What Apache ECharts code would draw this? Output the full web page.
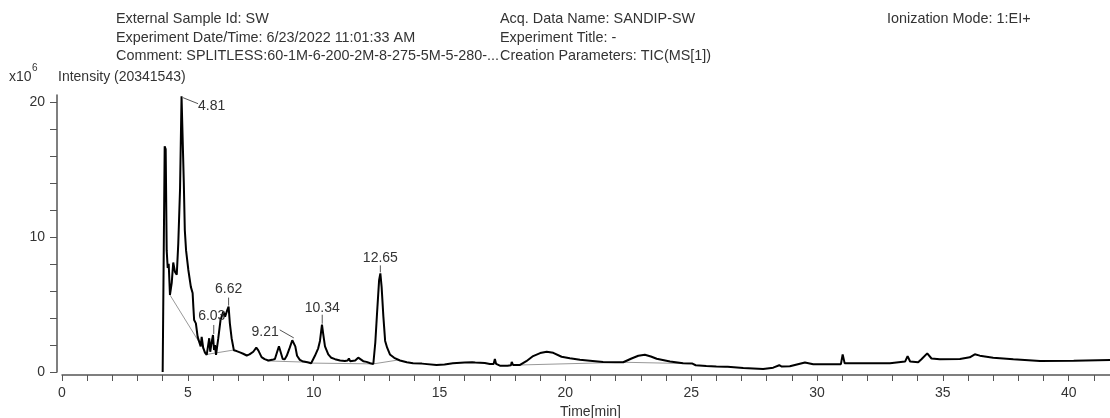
<!DOCTYPE html>
<html>
<head>
<meta charset="utf-8">
<script src="https://cdn.jsdelivr.net/npm/echarts@6/dist/echarts.min.js"></script>
<style>
html, body { margin: 0; padding: 0; background: #fff; }
#chart { width: 1110px; height: 418px; }
</style>
</head>
<body>
<div id="chart"></div>
<script>
// retention time (min) and TIC intensity (x10^6)
var times = [4.00, 4.05, 4.08, 4.12, 4.16, 4.20, 4.24, 4.29, 4.36, 4.42, 4.49, 4.56, 4.62, 4.69, 4.75, 4.81, 4.84, 4.88, 4.93,
  5.02, 5.12, 5.19, 5.22, 5.25, 5.32, 5.39, 5.46, 5.51, 5.55, 5.61, 5.68, 5.75, 5.81, 5.85, 5.89, 5.95, 6.00, 6.04, 6.08, 6.12,
  6.21, 6.30, 6.41, 6.48, 6.57, 6.62, 6.67, 6.74, 6.83, 6.94, 7.07, 7.20, 7.34, 7.45, 7.60, 7.72, 7.80, 7.93, 8.05, 8.20, 8.35,
  8.46, 8.55, 8.62, 8.68, 8.77, 8.85, 8.93, 9.05, 9.15, 9.21, 9.27, 9.34, 9.45, 9.55, 9.75, 9.90, 10.05, 10.18, 10.25, 10.33,
  10.38, 10.45, 10.58, 10.70, 10.85, 11.05, 11.24, 11.35, 11.40, 11.45, 11.51, 11.65, 11.77, 11.84, 11.97, 12.10, 12.25, 12.37,
  12.45, 12.52, 12.60, 12.65, 12.70, 12.77, 12.84, 12.92, 13.03, 13.20, 13.43, 13.70, 13.95, 14.30, 14.88, 15.20, 15.53, 16.00,
  16.30, 16.35, 16.42, 16.80, 17.00, 17.15, 17.20, 17.25, 17.40, 17.70, 17.84, 17.87, 17.92, 18.20, 18.45, 18.72, 19.00, 19.26,
  19.52, 19.85, 20.18, 20.58, 20.98, 21.50, 22.00, 22.30, 22.63, 22.90, 23.16, 23.40, 23.63, 24.16, 24.68, 25.05, 25.10, 25.18,
  25.60, 26.00, 26.35, 26.40, 26.45, 27.07, 27.86, 28.26, 28.50, 28.60, 28.92, 29.20, 29.52, 29.85, 30.40, 30.95, 31.02, 31.10,
  31.50, 32.40, 32.90, 32.96, 33.50, 33.60, 33.70, 34.02, 34.15, 34.22, 34.38, 34.55, 34.88, 35.68, 36.07, 36.27, 36.47, 37.00,
  37.80, 38.86, 40.20, 42.00];
var intensity = [0, 0.05, 16.7, 16.5, 9.0, 7.7, 8.0, 5.7, 6.6, 8.1, 7.4, 7.2, 9.5, 13.5, 20.4, 20.3, 14.0, 10.5, 9.0,
  7.55, 6.3, 5.85, 4.8, 3.85, 3.6, 2.6, 2.5, 1.9, 2.6, 1.8, 1.43, 1.26, 1.4, 2.5, 1.5, 2.25, 2.74, 1.63, 2.0, 1.26,
  2.5, 3.85, 4.47, 4.1, 4.6, 4.84, 3.6, 2.5, 1.6, 1.55, 1.45, 1.35, 1.22, 1.3, 1.5, 1.8, 1.6, 1.1, 0.95, 0.85, 0.9,
  0.96, 1.5, 1.9, 1.8, 0.96, 0.95, 1.2, 1.8, 2.35, 2.45, 1.9, 1.2, 0.9, 0.8, 0.72, 0.65, 1.2, 1.75, 2.3, 3.5,
  2.8, 1.9, 1.3, 1.05, 0.95, 0.85, 0.82, 0.85, 1.0, 0.8, 0.76, 0.85, 1.06, 1.06, 0.8, 0.75, 0.65, 0.59,
  2.2, 4.4, 6.8, 7.3, 6.3, 4.1, 2.3, 1.8, 1.3, 1.05, 0.85, 0.72, 0.65, 0.62, 0.52, 0.55, 0.65, 0.7,
  0.72, 0.85, 0.7, 0.66, 0.59, 0.6, 0.96, 0.6, 0.47, 0.47, 0.5, 0.74, 0.52, 0.52, 0.8, 1.18, 1.4, 1.5,
  1.42, 1.13, 1.02, 0.9, 0.84, 0.74, 0.72, 0.72, 1.0, 1.2, 1.28, 1.15, 0.98, 0.78, 0.65, 0.62, 0.75, 0.5,
  0.44, 0.4, 0.38, 0.48, 0.38, 0.3, 0.22, 0.32, 0.5, 0.4, 0.42, 0.55, 0.7, 0.58, 0.57, 0.58, 1.3, 0.64,
  0.64, 0.64, 0.64, 0.77, 0.77, 1.18, 0.78, 0.72, 0.94, 0.8, 1.38, 1.0, 0.94, 0.96, 1.09, 1.31, 1.21, 1.06,
  0.94, 0.81, 0.84, 0.89];

// integration baselines (null = break between segments)
var baseTimes = [4.29, 5.75, 6.90, null, 8.15, 9.85, null, 9.90, 12.37, 13.40, null, 18.20, 22.35, 24.90];
var baseValues = [5.7, 1.3, 1.65, null, 0.82, 0.72, null, 0.66, 0.6, 0.9, null, 0.52, 0.72, 0.62];

// labelled peaks
var peakTimes = [4.81, 6.03, 6.62, 9.21, 10.34, 12.65];
var peakValues = [20.3, 2.74, 4.84, 2.45, 3.5, 7.3];
var peakLabels = ['4.81', '6.03', '6.62', '9.21', '10.34', '12.65'];

// axis ticks
var xTicks = [0,1,2,3,4,5,6,7,8,9,10,11,12,13,14,15,16,17,18,19,20,21,22,23,24,25,26,27,28,29,30,31,32,33,34,35,36,37,38,39,40,41,42];
var xTickLabels = [0, 5, 10, 15, 20, 25, 30, 35, 40];
var yTicks = [0, 2, 4, 6, 8, 10, 12, 14, 16, 18, 20];
var yTickLabels = [0, 10, 20];

var FONT = '"Liberation Sans", Arial, sans-serif';
var HEAD = '14.4px ' + FONT;
var TXT = '#333';
var AXIS = '#555';

// leader line (from peak) and text placement, in pixels relative to the peak
var leaders = [
  { pts: [[0, 0], [15, 6]], text: [15, 8], align: 'left' },
  { pts: [[0, -1], [0, -10]], text: [-2, -19], align: 'center' },
  { pts: [[0, -1], [0, -9]], text: [0, -17], align: 'center' },
  { pts: [[0, -1], [-14, -9]], text: [-15, -7], align: 'right' },
  { pts: [[0, -1], [0, -10]], text: [0, -17], align: 'center' },
  { pts: [[0, -1], [0, -8]], text: [0, -15], align: 'center' }
];

var tic = times.map(function (t, i) { return [t, intensity[i]]; });
var base = baseTimes.map(function (t, i) { return t === null ? [null, null] : [t, baseValues[i]]; });
var peaks = peakTimes.map(function (t, i) { return [t, peakValues[i]]; });

var chart = echarts.init(document.getElementById('chart'));
chart.setOption({
  animation: false,
  backgroundColor: '#fff',
  grid: { left: 62, right: -9, top: 95, bottom: 46, outerBoundsMode: 'none' },
  graphic: [
    { type: 'text', left: 116, top: 12, style: { text: 'External Sample Id: SW', font: HEAD, fill: TXT } },
    { type: 'text', left: 116, top: 31, style: { text: 'Experiment Date/Time: 6/23/2022 11:01:33 AM', font: HEAD, fill: TXT } },
    { type: 'text', left: 116, top: 49, style: { text: 'Comment: SPLITLESS:60-1M-6-200-2M-8-275-5M-5-280-...', font: HEAD, fill: TXT } },
    { type: 'text', left: 500, top: 12, style: { text: 'Acq. Data Name: SANDIP-SW', font: HEAD, fill: TXT } },
    { type: 'text', left: 500, top: 31, style: { text: 'Experiment Title: -', font: HEAD, fill: TXT } },
    { type: 'text', left: 500, top: 49, style: { text: 'Creation Parameters: TIC(MS[1])', font: HEAD, fill: TXT } },
    { type: 'text', left: 887, top: 12, style: { text: 'Ionization Mode: 1:EI+', font: HEAD, fill: TXT } },
    { type: 'text', left: 9, top: 70, style: { text: 'x10', font: '14px ' + FONT, fill: TXT } },
    { type: 'text', left: 32, top: 63, style: { text: '6', font: '10px ' + FONT, fill: TXT } },
    { type: 'text', left: 58, top: 70, style: { text: 'Intensity (20341543)', font: '14px ' + FONT, fill: TXT } }
  ],
  xAxis: {
    type: 'value',
    min: 0,
    max: 42,
    offset: 3,
    name: 'Time[min]',
    nameLocation: 'middle',
    nameGap: 28,
    nameTextStyle: { color: TXT, fontFamily: FONT, fontSize: 14 },
    axisLine: { show: true, onZero: false, lineStyle: { color: AXIS, width: 1.5 } },
    axisTick: { show: true, customValues: xTicks, length: 6, lineStyle: { color: AXIS, width: 1 } },
    axisLabel: { customValues: xTickLabels, margin: 11, color: TXT, fontFamily: FONT, fontSize: 14 },
    splitLine: { show: false }
  },
  yAxis: {
    type: 'value',
    min: 0,
    max: 20.5,
    offset: 5,
    axisLine: { show: true, onZero: false, lineStyle: { color: AXIS, width: 1.5 } },
    axisTick: { show: true, customValues: yTicks, length: 7, lineStyle: { color: AXIS, width: 1 } },
    axisLabel: { customValues: yTickLabels, margin: 12, color: TXT, fontFamily: FONT, fontSize: 14 },
    splitLine: { show: false }
  },
  series: [
    {
      name: 'baseline',
      type: 'line',
      data: base,
      showSymbol: false,
      connectNulls: false,
      lineStyle: { color: '#999', width: 1 },
      z: 2
    },
    {
      name: 'TIC',
      type: 'line',
      data: tic,
      showSymbol: false,
      lineStyle: { color: '#000', width: 2 },
      z: 3
    },
    {
      name: 'peaks',
      type: 'custom',
      data: peaks,
      clip: false,
      z: 4,
      renderItem: function (params, api) {
        var i = params.dataIndex;
        var p = api.coord([api.value(0), api.value(1)]);
        var o = leaders[i];
        return {
          type: 'group',
          children: [
            {
              type: 'polyline',
              shape: { points: o.pts.map(function (d) { return [p[0] + d[0], p[1] + d[1]]; }) },
              style: { stroke: '#555', lineWidth: 1, fill: null }
            },
            {
              type: 'text',
              x: p[0] + o.text[0],
              y: p[1] + o.text[1],
              style: { text: peakLabels[i], font: '14px ' + FONT, fill: TXT, align: o.align, verticalAlign: 'middle' }
            }
          ]
        };
      }
    }
  ]
});
</script>
</body>
</html>
